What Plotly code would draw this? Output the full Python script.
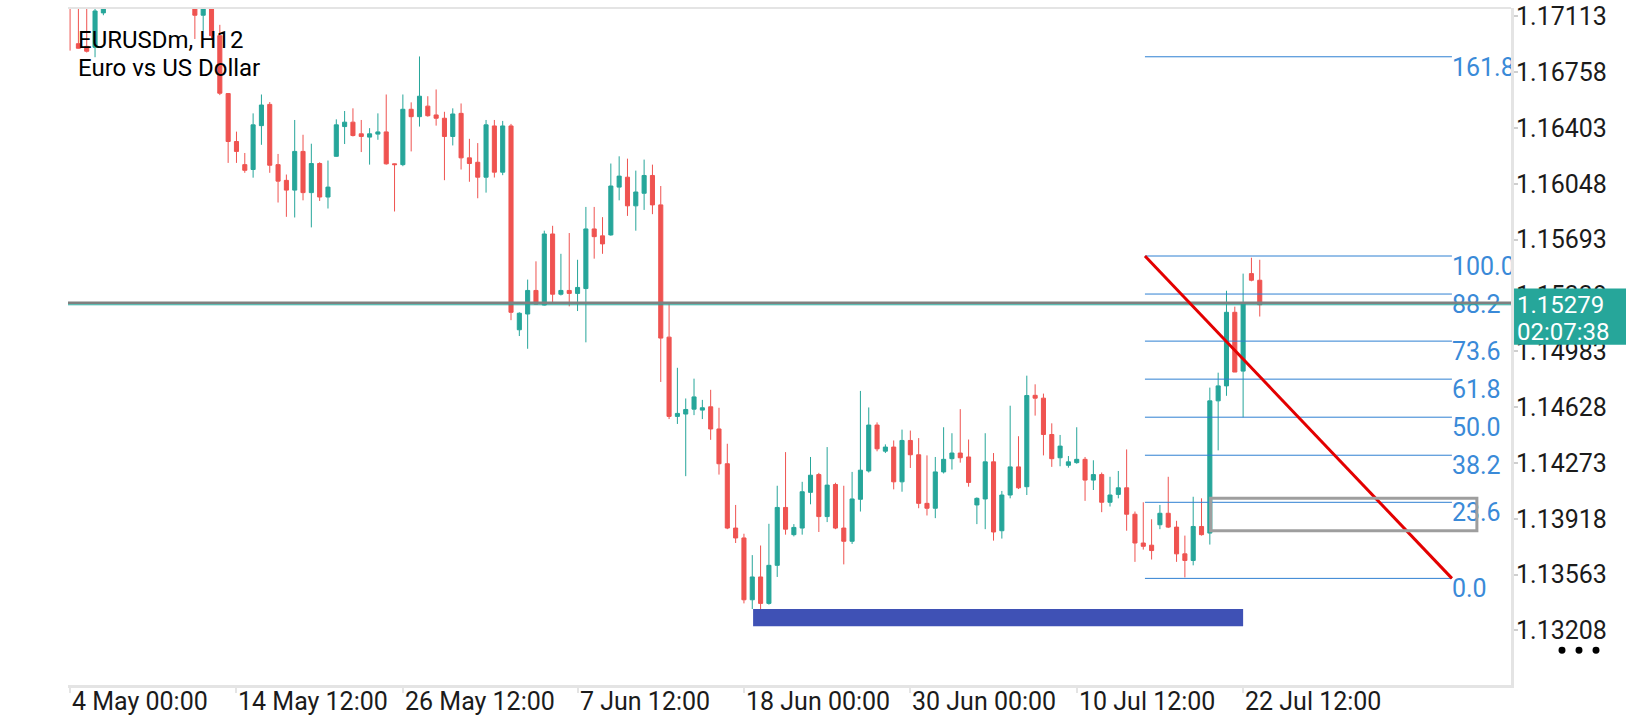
import plotly.graph_objects as go

# EURUSDm, H12 - one value per bar (bar 0 = 4 May 00:00)
open_ = [1.17300, 1.16939, 1.16922, 1.16916, 1.17135, 1.17190, 1.17330, 1.17290, 1.17480, 1.17400,
         1.17330, 1.17240, 1.17360, 1.17320, 1.17250, 1.17280, 1.17120, 1.17200, 1.16990, 1.16622,
         1.16317, 1.16170, 1.16139, 1.16418, 1.16553, 1.16170, 1.16070, 1.16008, 1.16254, 1.15992,
         1.16177, 1.15964, 1.16223, 1.16412, 1.16440, 1.16366, 1.16345, 1.16364, 1.16378, 1.16175,
         1.16170, 1.16522, 1.16475, 1.16542, 1.16486, 1.16465, 1.16349, 1.16496, 1.16213, 1.16185,
         1.16090, 1.16416, 1.16122, 1.16416, 1.15120, 1.15220, 1.15370, 1.15277, 1.15729, 1.15346,
         1.15370, 1.15351, 1.15382, 1.15761, 1.15717, 1.15723, 1.16027, 1.16090, 1.15908, 1.15988,
         1.16101, 1.15914, 1.15073, 1.14569, 1.14584, 1.14615, 1.14609, 1.14630, 1.14489, 1.14268,
         1.13859, 1.13796, 1.13403, 1.13548, 1.13380, 1.13622, 1.13990, 1.13817, 1.13859, 1.14086,
         1.14199, 1.13932, 1.14136, 1.13859, 1.13775, 1.14042, 1.14222, 1.14514, 1.14348, 1.14374,
         1.14153, 1.14416, 1.14325, 1.14016, 1.13985, 1.14216, 1.14300, 1.14336, 1.14311, 1.14006,
         1.14044, 1.14280, 1.13842, 1.14069, 1.14248, 1.14122, 1.14703, 1.14685, 1.14454, 1.14306,
         1.14258, 1.14275, 1.14296, 1.14164, 1.14199, 1.14023, 1.14073, 1.14115, 1.13947, 1.13764,
         1.13750, 1.13880, 1.13953, 1.13865, 1.13695, 1.13653, 1.13869, 1.13827, 1.14668, 1.14763,
         1.15231, 1.14857, 1.15477, 1.15435]
high = [1.17350, 1.17242, 1.17211, 1.17229, 1.17240, 1.17380, 1.17450, 1.17520, 1.17560, 1.17490,
        1.17420, 1.17390, 1.17470, 1.17400, 1.17330, 1.17330, 1.17260, 1.17240, 1.17059, 1.16624,
        1.16380, 1.16244, 1.16496, 1.16616, 1.16568, 1.16238, 1.16107, 1.16454, 1.16360, 1.16303,
        1.16185, 1.16196, 1.16458, 1.16511, 1.16528, 1.16454, 1.16402, 1.16496, 1.16616, 1.16177,
        1.16616, 1.16566, 1.16858, 1.16605, 1.16648, 1.16506, 1.16528, 1.16559, 1.16334, 1.16307,
        1.16454, 1.16454, 1.16448, 1.16429, 1.15231, 1.15439, 1.15555, 1.15750, 1.15781, 1.15603,
        1.15735, 1.15565, 1.15901, 1.15901, 1.15836, 1.16177, 1.16223, 1.16208, 1.16132, 1.16202,
        1.16170, 1.16034, 1.15292, 1.14878, 1.14683, 1.14809, 1.14674, 1.14738, 1.14624, 1.14395,
        1.14006, 1.13823, 1.13687, 1.13748, 1.13886, 1.14128, 1.14342, 1.13884, 1.14153, 1.14311,
        1.14210, 1.14374, 1.14147, 1.14128, 1.14216, 1.14731, 1.14626, 1.14531, 1.14391, 1.14416,
        1.14485, 1.14479, 1.14431, 1.14321, 1.14311, 1.14500, 1.14462, 1.14615, 1.14422, 1.14054,
        1.14462, 1.14336, 1.14095, 1.14637, 1.14443, 1.14828, 1.14773, 1.14714, 1.14525, 1.14451,
        1.14317, 1.14500, 1.14311, 1.14290, 1.14212, 1.14185, 1.14222, 1.14359, 1.13964, 1.14023,
        1.13915, 1.14006, 1.14185, 1.13905, 1.13811, 1.14058, 1.14048, 1.14752, 1.14847, 1.15368,
        1.15267, 1.15477, 1.15578, 1.15565]
low = [1.16895, 1.16908, 1.16883, 1.16853, 1.17120, 1.17175, 1.17260, 1.17250, 1.17350, 1.17280,
       1.17200, 1.17190, 1.17300, 1.17210, 1.17180, 1.16969, 1.17021, 1.16971, 1.16612, 1.16181,
       1.16181, 1.16118, 1.16087, 1.16296, 1.16118, 1.15929, 1.15838, 1.15834, 1.15943, 1.15771,
       1.15939, 1.15891, 1.16221, 1.16301, 1.16349, 1.16250, 1.16170, 1.16328, 1.16170, 1.15872,
       1.16160, 1.16254, 1.16412, 1.16475, 1.16418, 1.16071, 1.16292, 1.16139, 1.16061, 1.15956,
       1.15992, 1.16088, 1.16103, 1.15181, 1.15080, 1.14999, 1.15281, 1.15275, 1.15290, 1.15338,
       1.15269, 1.15239, 1.15040, 1.15572, 1.15603, 1.15718, 1.15943, 1.15844, 1.15750, 1.15882,
       1.15855, 1.14788, 1.14552, 1.14521, 1.14189, 1.14577, 1.14552, 1.14420, 1.14199, 1.13852,
       1.13764, 1.13380, 1.13344, 1.13344, 1.13372, 1.13548, 1.13817, 1.13806, 1.13817, 1.14010,
       1.13834, 1.13897, 1.13852, 1.13628, 1.13758, 1.13964, 1.14212, 1.14347, 1.14336, 1.14105,
       1.14090, 1.14241, 1.13985, 1.13939, 1.13922, 1.14206, 1.14231, 1.14275, 1.14122, 1.13884,
       1.13852, 1.13779, 1.13792, 1.14048, 1.14107, 1.14069, 1.14574, 1.14321, 1.14248, 1.14252,
       1.14243, 1.14268, 1.14032, 1.14101, 1.13960, 1.13996, 1.14048, 1.13842, 1.13644, 1.13722,
       1.13659, 1.13852, 1.13859, 1.13644, 1.13545, 1.13622, 1.13811, 1.13754, 1.14353, 1.14700,
       1.14851, 1.14563, 1.15428, 1.15204]
close = [1.17200, 1.16910, 1.16891, 1.17147, 1.17190, 1.17330, 1.17290, 1.17480, 1.17400, 1.17330,
         1.17240, 1.17360, 1.17320, 1.17250, 1.17280, 1.17120, 1.17200, 1.16990, 1.16624, 1.16317,
         1.16254, 1.16134, 1.16423, 1.16549, 1.16166, 1.16065, 1.16008, 1.16254, 1.15992, 1.16177,
         1.15964, 1.16027, 1.16423, 1.16440, 1.16355, 1.16349, 1.16366, 1.16378, 1.16175, 1.16170,
         1.16522, 1.16475, 1.16605, 1.16481, 1.16465, 1.16349, 1.16492, 1.16213, 1.16177, 1.16090,
         1.16423, 1.16122, 1.16416, 1.15231, 1.15225, 1.15370, 1.15283, 1.15729, 1.15346, 1.15370,
         1.15351, 1.15389, 1.15761, 1.15712, 1.15666, 1.16034, 1.16097, 1.15908, 1.15996, 1.16101,
         1.15914, 1.15067, 1.14569, 1.14588, 1.14613, 1.14693, 1.14624, 1.14489, 1.14268, 1.13859,
         1.13796, 1.13403, 1.13548, 1.13380, 1.13622, 1.13990, 1.13852, 1.13863, 1.14090, 1.14195,
         1.13932, 1.14132, 1.13859, 1.13775, 1.14044, 1.14227, 1.14514, 1.14363, 1.14374, 1.14153,
         1.14416, 1.14325, 1.14016, 1.13985, 1.14216, 1.14296, 1.14336, 1.14306, 1.14149, 1.14048,
         1.14280, 1.13834, 1.14069, 1.14248, 1.14115, 1.14702, 1.14685, 1.14454, 1.14300, 1.14380,
         1.14280, 1.14296, 1.14164, 1.14199, 1.14023, 1.14069, 1.14115, 1.13947, 1.13764, 1.13743,
         1.13716, 1.13953, 1.13865, 1.13695, 1.13653, 1.13869, 1.13817, 1.14668, 1.14763, 1.15231,
         1.14851, 1.15292, 1.15435, 1.15279]

tick_bars = [0, 20, 40, 61, 81, 101, 121, 141]
tick_labels = ["4 May 00:00", "14 May 12:00", "26 May 12:00", "7 Jun 12:00",
               "18 Jun 00:00", "30 Jun 00:00", "10 Jul 12:00", "22 Jul 12:00"]
price_ticks = [1.17113, 1.16758, 1.16403, 1.16048, 1.15693, 1.15338,
               1.14983, 1.14628, 1.14273, 1.13918, 1.13563, 1.13208]

# fibonacci retracement object
fib_low, fib_high = 1.13539, 1.15589
fib_from, fib_to = 129.2, 166.1
fib_levels = [0.0, 23.6, 38.2, 50.0, 61.8, 73.6, 88.2, 100.0, 161.8]

# other drawn objects
hline_price = 1.15292
blue_zone = [82.1, 141.0, 1.13235, 1.13344]
gray_zone = [137.1, 169.1, 1.13842, 1.14048]
timer = "02:07:38"

UP, DOWN = "#26a69a", "#ef5350"
FIB_LINE, FIB_TXT = "#2f80d2", "#3a8ad8"
AXIS = "#e4e4e4"
FONT = "Roboto"

bars = list(range(len(close)))
fib_prices = [fib_low + lv / 100 * (fib_high - fib_low) for lv in fib_levels]

fig = go.Figure()
fig.add_trace(go.Candlestick(
    x=bars, open=open_, high=high, low=low, close=close,
    increasing=dict(line=dict(color=UP, width=1), fillcolor=UP),
    decreasing=dict(line=dict(color=DOWN, width=1), fillcolor=DOWN),
    whiskerwidth=0, hoverinfo="skip", showlegend=False))

fig.add_trace(go.Scatter(
    x=[fib_to] * len(fib_levels), y=fib_prices, mode="text",
    text=[f"{lv:.1f}" for lv in fib_levels], textposition="bottom right",
    textfont=dict(family=FONT, size=25, color=FIB_TXT),
    cliponaxis=True, hoverinfo="skip", showlegend=False))

shapes = []
# horizontal line and bid line
shapes.append(dict(type="line", xref="paper", x0=0, x1=1, y0=hline_price, y1=hline_price,
                   line=dict(color="#808080", width=2.5), layer="above"))
shapes.append(dict(type="line", xref="paper", x0=0, x1=1, y0=close[-1], y1=close[-1],
                   line=dict(color=UP, width=1), layer="above"))
# fibo levels + trend line
for p in fib_prices:
    shapes.append(dict(type="line", x0=fib_from, x1=fib_to, y0=p, y1=p,
                       line=dict(color=FIB_LINE, width=1), layer="above"))
shapes.append(dict(type="line", x0=fib_from, x1=fib_to, y0=fib_high, y1=fib_low,
                   line=dict(color="#e30000", width=3), layer="above"))
# rectangles
shapes.append(dict(type="rect", x0=blue_zone[0], x1=blue_zone[1], y0=blue_zone[2], y1=blue_zone[3],
                   fillcolor="#3f51b5", line=dict(width=0), layer="above"))
shapes.append(dict(type="rect", x0=gray_zone[0], x1=gray_zone[1], y0=gray_zone[2], y1=gray_zone[3],
                   line=dict(color="#9e9e9e", width=3), layer="above"))
# top frame line
shapes.append(dict(type="line", xref="paper", yref="paper", x0=0, x1=1, y0=1, y1=1,
                   line=dict(color=AXIS, width=2)))
# price box on the right axis
shapes.append(dict(type="rect", xref="paper", yref="paper", x0=1.0021, x1=1.0797,
                   y0=0.5026, y1=0.5857, fillcolor=UP, line=dict(width=0), layer="above"))
# three dots menu
for cx in [1562, 1579, 1596]:
    shapes.append(dict(type="circle", xref="paper", yref="paper",
                       x0=(cx - 3.5 - 68) / 1443, x1=(cx + 3.5 - 68) / 1443,
                       y0=(35 - 3.5) / 683, y1=(35 + 3.5) / 683,
                       fillcolor="black", line=dict(width=0), layer="above"))

annotations = []
for b, lab in zip(tick_bars, tick_labels):
    annotations.append(dict(x=b, y=-0.0242, xref="x", yref="paper", text=lab, showarrow=False,
                            xanchor="left", yanchor="middle",
                            font=dict(family=FONT, size=25, color="#1b1b1b")))
annotations.append(dict(x=0.0058, y=0.9522, xref="paper", yref="paper", text="EURUSDm, H12",
                        showarrow=False, xanchor="left", yanchor="middle",
                        font=dict(family=FONT, size=24, color="black")))
annotations.append(dict(x=0.0058, y=0.9114, xref="paper", yref="paper", text="Euro vs US Dollar",
                        showarrow=False, xanchor="left", yanchor="middle",
                        font=dict(family=FONT, size=24, color="black")))
annotations.append(dict(x=1.0028, y=close[-1], xref="paper", yref="y", text=f"{close[-1]:.5f}",
                        showarrow=False, xanchor="left", yanchor="middle",
                        font=dict(family=FONT, size=24, color="white")))
annotations.append(dict(x=1.0028, y=close[-1], xref="paper", yref="y", text=timer, yshift=-27,
                        showarrow=False, xanchor="left", yanchor="middle",
                        font=dict(family=FONT, size=24, color="white")))

fig.update_layout(
    width=1640, height=720,
    margin=dict(l=68, r=129, t=2, b=35),
    paper_bgcolor="white", plot_bgcolor="white",
    hovermode=False, showlegend=False,
    shapes=shapes, annotations=annotations,
    xaxis=dict(range=[-0.25, 173.2], showgrid=False, zeroline=False,
               showline=True, linecolor=AXIS, linewidth=3,
               ticks="outside", tickvals=tick_bars, ticklen=5, tickcolor=AXIS, tickwidth=1.5,
               showticklabels=False, rangeslider=dict(visible=False), fixedrange=True),
    yaxis=dict(range=[1.12861, 1.17166], side="right", showgrid=False, zeroline=False,
               showline=True, linecolor=AXIS, linewidth=3,
               ticks="outside", ticklen=4, tickcolor="#cfcfcf", tickwidth=1.5,
               tickvals=price_ticks, ticktext=[f"{v:.5f}" for v in price_ticks],
               ticklabeloverflow="allow", ticklabelstandoff=-7,
               tickfont=dict(family=FONT, size=25, color="#1b1b1b"), fixedrange=True),
)

# page body has a default 8px margin; drop it so the chart sits at the window corner
fig.write_html("out.html", config={"displayModeBar": False},
               post_script="document.body.style.margin='0px';")
